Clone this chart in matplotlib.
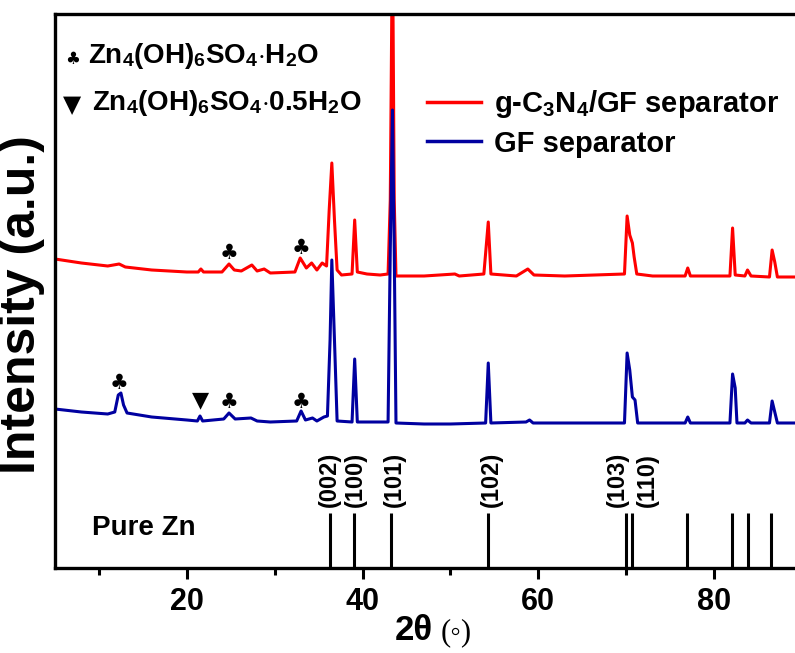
import matplotlib
matplotlib.use('Agg')
import matplotlib.pyplot as plt
from matplotlib.ticker import MultipleLocator

plt.rcParams['font.family'] = ['Liberation Sans', 'DejaVu Sans']
plt.rcParams['font.weight'] = 'bold'
plt.rcParams['mathtext.fontset'] = 'custom'
plt.rcParams['mathtext.rm'] = 'Liberation Sans:bold'
plt.rcParams['mathtext.it'] = 'Liberation Serif'
plt.rcParams['mathtext.sf'] = 'Liberation Serif'

# g-C3N4/GF separator trace (2theta, intensity a.u.)
red_x = [5, 8, 11, 12.3, 13, 16, 20, 21.3, 21.6, 21.9, 24.0, 24.8, 25.4, 26.2,
         27.4, 28.0, 28.8, 29.5, 32.3, 32.9, 33.6, 34.2, 34.8, 35.4, 35.9, 36.2,
         36.5, 36.8, 37.1, 37.6, 38.8, 39.1, 39.4, 40.5, 42.0, 42.9, 43.15, 43.4,
         43.6, 43.8, 47, 50.5, 51, 53.8, 54.3, 54.6, 57.5, 58.8, 59.5, 63, 69.8,
         70.1, 70.4, 70.7, 70.9, 71.2, 73, 76.7, 77.0, 77.3, 81.8, 82.1, 82.4,
         83.5, 83.8, 84.2, 86.3, 86.6, 86.9, 87.2, 90]
red_y = [309, 305, 302, 304, 301, 298, 296, 296, 299, 296, 296, 304, 298, 297,
         303, 297, 299, 295, 296, 310, 300, 305, 298, 305, 302, 358,
         405, 348, 298, 293, 294, 348, 296, 294, 293, 294, 368, 640,
         368, 292, 292, 294, 292, 294, 346, 294, 292, 299, 293, 292, 294,
         352, 333, 325, 311, 294, 292, 292, 300, 292, 292, 340, 293,
         292, 298, 292, 291, 318, 306, 291, 291]

# GF separator trace
blue_x = [5, 8, 11, 11.8, 12.2, 12.5, 12.8, 13.2, 16, 20, 21.2, 21.5, 21.8, 24.2,
          24.8, 25.5, 27.3, 28, 29.5, 32.5, 33.0, 33.5, 34.3, 34.8, 35.6, 36.0,
          36.3, 36.5, 36.8, 37.1, 38.8, 39.1, 39.4, 42.9, 43.15, 43.4, 43.6, 43.8,
          47, 50, 54.0, 54.3, 54.6, 58.6, 59.0, 59.4, 69.8, 70.1, 70.4, 70.7, 71.0,
          71.3, 76.7, 77.0, 77.3, 81.8, 82.1, 82.4, 82.6, 83.5, 83.8, 84.2, 86.3,
          86.6, 86.9, 87.2, 90]
blue_y = [159, 156, 154, 156, 173, 175, 163, 155, 151, 148, 147, 152, 147, 149,
          155, 149, 150, 147, 146, 147, 157, 148, 150, 147, 151, 152,
          228, 308, 228, 147, 146, 209, 146, 146, 318, 458, 318, 145,
          144, 144, 145, 205, 145, 146, 148, 145, 145, 215, 198, 171, 168,
          145, 145, 151, 145, 145, 194, 180, 145, 145, 148, 145, 145,
          167, 156, 145, 145]

# Pure Zn reference lines
zn_pos = [36.3, 39.0, 43.2, 54.3, 70.0, 70.6, 76.9, 82.0, 83.8, 86.5]
zn_height = 55
hkl_labels = ['(002)', '(100)', '(101)', '(102)', '(103)', '(110)']
hkl_pos = [36.25, 39.2, 43.6, 54.7, 69.0, 72.4]

# phase markers: (2theta, height)
club_marks = [(12.3, 185), (24.8, 166), (33.0, 166), (24.8, 315), (33.0, 320)]
tri_marks = [(21.5, 168)]

fig = plt.figure(figsize=(7.95, 6.53), dpi=100)
ax = fig.add_axes([55 / 795, 85 / 653, 747 / 795, 554 / 653])

ax.plot(red_x, red_y, color='#ff0000', lw=2.2, label=r'g-C$_3$N$_4$/GF separator')
ax.plot(blue_x, blue_y, color='#0000a0', lw=2.2, label='GF separator')
ax.vlines(zn_pos, 0, zn_height, color='black', lw=2.2)

for p, lab in zip(hkl_pos, hkl_labels):
    ax.text(p, 61, lab, rotation=90, ha='center', va='bottom', fontsize=17)

for x, y in club_marks:
    ax.text(x, y, '\u2663', ha='center', va='center', fontsize=15,
            family=['DejaVu Sans'])
for x, y in tri_marks:
    ax.text(x, y, '\u25bc', ha='center', va='center', fontsize=16,
            family=['DejaVu Sans'])

ax.text(0.05, 0.06, 'Pure Zn', transform=ax.transAxes, fontsize=20,
        ha='left', va='baseline')

# phase legend (top left)
ax.text(0.013, 0.918, '\u2663', transform=ax.transAxes, fontsize=12,
        ha='left', va='center', family=['DejaVu Sans'])
ax.text(0.044, 0.911, r'Zn$_4$(OH)$_6$SO$_4$$\cdot$H$_2$O', transform=ax.transAxes,
        fontsize=20, ha='left', va='baseline')
ax.text(0.011, 0.836, '\u25bc', transform=ax.transAxes, fontsize=17,
        ha='left', va='center', family=['DejaVu Sans'])
ax.text(0.05, 0.826, r'Zn$_4$(OH)$_6$SO$_4$$\cdot$0.5H$_2$O', transform=ax.transAxes,
        fontsize=20, ha='left', va='baseline')

leg = ax.legend(loc='upper left', bbox_to_anchor=(0.498, 0.866), frameon=False,
                fontsize=21, handlelength=1.85, handletextpad=0.45,
                labelspacing=0.32, borderpad=0, borderaxespad=0)
for line in leg.get_lines():
    line.set_linewidth(2.5)

ax.set_xlim(5, 90)
ax.set_ylim(0, 554)
ax.xaxis.set_major_locator(MultipleLocator(20))
ax.xaxis.set_minor_locator(MultipleLocator(10))
ax.set_yticks([])
ax.tick_params(axis='x', which='major', direction='out', length=8, width=2.2,
               labelsize=22, pad=6)
ax.tick_params(axis='x', which='minor', direction='out', length=5, width=2.2)
for s in ax.spines.values():
    s.set_linewidth(2.4)

# x label: bold "2θ" followed by a light serif "(◦)"
fig.text(433 / 795, 1 - 640 / 653, '2\u03b8', fontsize=25, fontweight='bold',
         ha='right', va='baseline', family=['Liberation Sans', 'DejaVu Sans'])
fig.text(441 / 795, 1 - 640 / 653, '(\u25e6)', fontsize=22, fontweight='normal',
         ha='left', va='baseline', family=['Liberation Serif', 'DejaVu Sans'])

ax.set_ylabel('Intensity (a.u.)', fontsize=36, fontweight='bold')
ax.yaxis.set_label_coords(-0.014, 0.475)

fig.savefig('out.png', dpi=100)
